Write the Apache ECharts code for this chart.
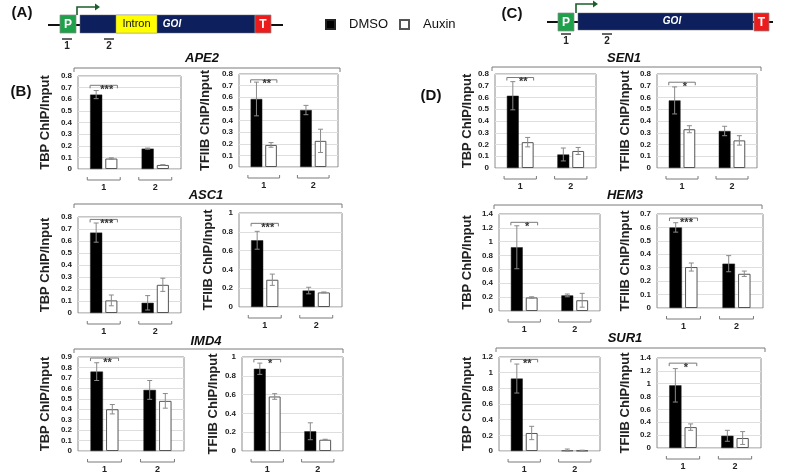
<!DOCTYPE html>
<html><head><meta charset="utf-8">
<script src="https://cdn.jsdelivr.net/npm/echarts@6/dist/echarts.min.js"></script>
<style>html,body{margin:0;padding:0;background:#fff}#c{width:785px;height:474px}</style>
</head><body><div id="c"></div>
<script>
// ---------- data ----------
const categories = ['1', '2'];
const seriesNames = ['DMSO', 'Auxin'];
const genes = ['APE2', 'ASC1', 'IMD4', 'SEN1', 'HEM3', 'SUR1'];
const factors = ['TBP', 'TFIIB'];

const ape2TbpDmso = [0.64, 0.175],   ape2TbpDmsoErr = [0.035, 0.005];
const ape2TbpAuxin = [0.09, 0.035],  ape2TbpAuxinErr = [0.006, 0.002];
const ape2TfiibDmso = [0.585, 0.49], ape2TfiibDmsoErr = [0.145, 0.04];
const ape2TfiibAuxin = [0.19, 0.225], ape2TfiibAuxinErr = [0.02, 0.1];

const asc1TbpDmso = [0.67, 0.085],   asc1TbpDmsoErr = [0.08, 0.06];
const asc1TbpAuxin = [0.105, 0.235], asc1TbpAuxinErr = [0.045, 0.055];
const asc1TfiibDmso = [0.71, 0.175], asc1TfiibDmsoErr = [0.095, 0.035];
const asc1TfiibAuxin = [0.29, 0.155], asc1TfiibAuxinErr = [0.06, 0.005];

const imd4TbpDmso = [0.76, 0.585],   imd4TbpDmsoErr = [0.085, 0.09];
const imd4TbpAuxin = [0.40, 0.48],   imd4TbpAuxinErr = [0.045, 0.07];
const imd4TfiibDmso = [0.875, 0.21], imd4TfiibDmsoErr = [0.06, 0.09];
const imd4TfiibAuxin = [0.58, 0.12], imd4TfiibAuxinErr = [0.03, 0.005];

const sen1TbpDmso = [0.615, 0.115],  sen1TbpDmsoErr = [0.12, 0.055];
const sen1TbpAuxin = [0.22, 0.145],  sen1TbpAuxinErr = [0.04, 0.03];
const sen1TfiibDmso = [0.575, 0.315], sen1TfiibDmsoErr = [0.115, 0.04];
const sen1TfiibAuxin = [0.33, 0.235], sen1TfiibAuxinErr = [0.03, 0.04];

const hem3TbpDmso = [0.92, 0.225],   hem3TbpDmsoErr = [0.31, 0.02];
const hem3TbpAuxin = [0.195, 0.155], hem3TbpAuxinErr = [0.01, 0.1];
const hem3TfiibDmso = [0.60, 0.33],  hem3TfiibDmsoErr = [0.035, 0.06];
const hem3TfiibAuxin = [0.305, 0.255], hem3TfiibAuxinErr = [0.03, 0.02];

const sur1TbpDmso = [0.925, 0.005],  sur1TbpDmsoErr = [0.185, 0.02];
const sur1TbpAuxin = [0.23, 0.005],  sur1TbpAuxinErr = [0.085, 0.005];
const sur1TfiibDmso = [0.975, 0.19], sur1TfiibDmsoErr = [0.26, 0.085];
const sur1TfiibAuxin = [0.325, 0.155], sur1TfiibAuxinErr = [0.05, 0.1];

// y-axis tick settings per panel (order: APE2 TBP, APE2 TFIIB, ASC1..., IMD4..., SEN1..., HEM3..., SUR1...)
const tickMax  = [0.8, 0.8, 0.8, 1, 0.9, 1, 0.8, 0.8, 1.4, 0.7, 1.2, 1.4];
const tickStep = [0.1, 0.1, 0.1, 0.2, 0.1, 0.2, 0.1, 0.1, 0.2, 0.1, 0.2, 0.2];
// significance bracket level (data units) and stars, for category 1
const sigLevel = [0.72, 0.75, 0.78, 0.89, 0.89, 0.975, 0.77, 0.73, 1.28, 0.67, 1.17, 1.32];
const sigStars = ['***', '**', '***', '***', '**', '*', '**', '*', '*', '***', '**', '*'];

const dmsoVals = [ape2TbpDmso, ape2TfiibDmso, asc1TbpDmso, asc1TfiibDmso, imd4TbpDmso, imd4TfiibDmso,
                  sen1TbpDmso, sen1TfiibDmso, hem3TbpDmso, hem3TfiibDmso, sur1TbpDmso, sur1TfiibDmso];
const dmsoErrs = [ape2TbpDmsoErr, ape2TfiibDmsoErr, asc1TbpDmsoErr, asc1TfiibDmsoErr, imd4TbpDmsoErr, imd4TfiibDmsoErr,
                  sen1TbpDmsoErr, sen1TfiibDmsoErr, hem3TbpDmsoErr, hem3TfiibDmsoErr, sur1TbpDmsoErr, sur1TfiibDmsoErr];
const auxinVals = [ape2TbpAuxin, ape2TfiibAuxin, asc1TbpAuxin, asc1TfiibAuxin, imd4TbpAuxin, imd4TfiibAuxin,
                   sen1TbpAuxin, sen1TfiibAuxin, hem3TbpAuxin, hem3TfiibAuxin, sur1TbpAuxin, sur1TfiibAuxin];
const auxinErrs = [ape2TbpAuxinErr, ape2TfiibAuxinErr, asc1TbpAuxinErr, asc1TfiibAuxinErr, imd4TbpAuxinErr, imd4TfiibAuxinErr,
                   sen1TbpAuxinErr, sen1TfiibAuxinErr, hem3TbpAuxinErr, hem3TfiibAuxinErr, sur1TbpAuxinErr, sur1TfiibAuxinErr];

// ---------- layout (pixels): left, top, width, height, nameGap ----------
const gridBoxes = [
  [78, 76, 103, 93, 26], [239, 74, 99, 93, 27],
  [78, 217, 103, 96, 26], [239, 213, 103, 94, 24],
  [78, 357, 106, 97, 26], [242, 357, 101, 95, 22],
  [495, 74, 101, 94, 21], [657, 74, 100, 94, 25],
  [499, 214, 101, 97, 25], [657, 214, 106, 94, 25],
  [499, 357, 101, 96, 25], [657, 358, 104, 90, 25]
];
const CAT_GAP = 0.47, BAR_GAP = 0.25;
const FONT = 'Liberation Sans, Arial, sans-serif';

function barOffset(band, which) {
  const w = band * (1 - CAT_GAP) / (2 + BAR_GAP);
  return { w: w, off: (which === 0 ? -1 : 1) * (w + w * BAR_GAP) / 2 };
}

function errRender(params, api) {
  const cat = api.value(0), val = api.value(1), err = api.value(2), which = api.value(3);
  const band = api.size([1, 0])[0];
  const o = barOffset(band, which);
  const x = api.coord([cat, val])[0] + o.off;
  const top = api.coord([cat, val + err])[1];
  const bot = api.coord([cat, Math.max(0, val - err)])[1];
  const st = { stroke: '#8a8a8a', lineWidth: 1 };
  return { type: 'group', children: [
    { type: 'line', shape: { x1: x, y1: top, x2: x, y2: bot }, style: st },
    { type: 'line', shape: { x1: x - 2.5, y1: top, x2: x + 2.5, y2: top }, style: st },
    { type: 'line', shape: { x1: x - 2.5, y1: bot, x2: x + 2.5, y2: bot }, style: st }
  ]};
}

function catBracketRender(params, api) {
  const cat = api.value(0);
  const band = api.size([1, 0])[0];
  const c = api.coord([cat, 0]);
  const hw = band * 0.32;
  const y = c[1] + 11;
  return { type: 'polyline', shape: { points: [[c[0] - hw, y - 3], [c[0] - hw, y], [c[0] + hw, y], [c[0] + hw, y - 3]] },
           style: { stroke: '#7a7a7a', lineWidth: 1, fill: null } };
}

function makeSigRender(stars) {
  return function (params, api) {
    const cat = api.value(0), lvl = api.value(1);
    const band = api.size([1, 0])[0];
    const o = barOffset(band, 0);
    const c = api.coord([cat, lvl]);
    const x1 = c[0] + o.off - o.w / 2, x2 = c[0] - o.off + o.w / 2;
    const y = c[1];
    return { type: 'group', children: [
      { type: 'polyline', shape: { points: [[x1, y + 3], [x1, y], [x2, y], [x2, y + 3]] },
        style: { stroke: '#7a7a7a', lineWidth: 1, fill: null } },
      { type: 'text', style: { text: stars, x: (x1 + x2) / 2 + 3, y: y - 1, align: 'center', verticalAlign: 'top',
        font: 'bold 11px ' + FONT, fill: '#333' } }
    ]};
  };
}

const grids = [], xAxes = [], yAxes = [], series = [];
for (let i = 0; i < 12; i++) {
  const b = gridBoxes[i];
  grids.push({ left: b[0], top: b[1], width: b[2], height: b[3], show: true, borderColor: '#8c8c8c', borderWidth: 1, backgroundColor: '#fff' });
  xAxes.push({ type: 'category', gridIndex: i, data: categories, axisLine: { show: false }, axisTick: { show: false },
    axisLabel: { margin: 14, fontSize: 9, fontWeight: 'bold', color: '#222', fontFamily: FONT } });
  yAxes.push({ type: 'value', gridIndex: i, min: 0, max: tickMax[i], interval: tickStep[i],
    name: factors[i % 2] + ' ChIP/Input', nameLocation: 'middle', nameGap: b[4],
    nameTextStyle: { fontSize: 13, fontWeight: 'bold', color: '#222', fontFamily: FONT },
    axisLine: { show: false }, axisTick: { show: false },
    axisLabel: { fontSize: 8, fontWeight: 'bold', color: '#222', margin: 6, fontFamily: FONT },
    splitLine: { lineStyle: { color: '#dedede', width: 1 } } });
  series.push({ type: 'bar', name: seriesNames[0], xAxisIndex: i, yAxisIndex: i, data: dmsoVals[i],
    barCategoryGap: (CAT_GAP * 100) + '%', barGap: (BAR_GAP * 100) + '%',
    itemStyle: { color: '#000', borderColor: '#222', borderWidth: 0.5 } });
  series.push({ type: 'bar', name: seriesNames[1], xAxisIndex: i, yAxisIndex: i, data: auxinVals[i],
    barCategoryGap: (CAT_GAP * 100) + '%', barGap: (BAR_GAP * 100) + '%',
    itemStyle: { color: '#fff', borderColor: '#555', borderWidth: 1 } });
  const errData = [];
  for (let k = 0; k < categories.length; k++) {
    errData.push([k, dmsoVals[i][k], dmsoErrs[i][k], 0]);
    errData.push([k, auxinVals[i][k], auxinErrs[i][k], 1]);
  }
  series.push({ type: 'custom', xAxisIndex: i, yAxisIndex: i, data: errData, renderItem: errRender, z: 5, silent: true });
  series.push({ type: 'custom', xAxisIndex: i, yAxisIndex: i, data: [[0, sigLevel[i]]], renderItem: makeSigRender(sigStars[i]), z: 5, silent: true, clip: false });
  series.push({ type: 'custom', xAxisIndex: i, yAxisIndex: i, data: [[0, 0], [1, 0]], renderItem: catBracketRender, z: 5, silent: true, clip: false });
}

// ---------- decorations ----------
const G = [];
function txt(t, x, y, size, opts) {
  G.push(Object.assign({ type: 'text', x: x, y: y, style: Object.assign({ text: t, align: 'center', verticalAlign: 'middle',
    font: 'bold ' + size + 'px ' + FONT, fill: '#111' }, opts || {}) }));
}
function bracket(x1, x2, y) {
  G.push({ type: 'polyline', shape: { points: [[x1, y + 4], [x1, y], [x2, y], [x2, y + 4]] }, style: { stroke: '#7a7a7a', lineWidth: 1, fill: null } });
}
// gene group brackets and titles
bracket(74, 340, 68);  txt(genes[0], 202, 58, 13, { font: 'italic bold 13px ' + FONT });
bracket(74, 342, 204); txt(genes[1], 206, 195, 13, { font: 'italic bold 13px ' + FONT });
bracket(74, 343, 349); txt(genes[2], 206, 341, 13, { font: 'italic bold 13px ' + FONT });
bracket(492, 761, 67); txt(genes[3], 624, 58, 13, { font: 'italic bold 13px ' + FONT });
bracket(494, 762, 205); txt(genes[4], 625, 195, 13, { font: 'italic bold 13px ' + FONT });
bracket(496, 765, 348); txt(genes[5], 625, 338, 13, { font: 'italic bold 13px ' + FONT });
// panel letters
txt('(A)', 22, 13, 15); txt('(B)', 21, 92, 15); txt('(C)', 512, 14, 15); txt('(D)', 431, 96, 15);

function geneDiagram(x0, x1, ly, p, body, intron, t, arrowX, arrowTop, arrowEnd, goiX, m1, m2, my) {
  G.push({ type: 'line', shape: { x1: x0, y1: ly, x2: x1, y2: ly }, style: { stroke: '#111', lineWidth: 2 } });
  G.push({ type: 'rect', shape: { x: body[0], y: body[1], width: body[2], height: body[3] }, style: { fill: '#0d1f5c', stroke: '#6d6d6d', lineWidth: 0.5 } });
  if (intron) {
    G.push({ type: 'rect', shape: { x: intron[0], y: intron[1], width: intron[2], height: intron[3] }, style: { fill: '#ffff00', stroke: '#999', lineWidth: 0.5 } });
    txt('Intron', intron[0] + intron[2] / 2, intron[1] + intron[3] / 2, 11, { font: '11px ' + FONT, fill: '#111' });
  }
  txt('GOI', goiX, body[1] + body[3] / 2, 10, { font: 'italic bold 10px ' + FONT, fill: '#fff' });
  G.push({ type: 'rect', shape: { x: p[0], y: p[1], width: p[2], height: p[3] }, style: { fill: '#1fa04b', stroke: '#8a8a8a', lineWidth: 0.7 } });
  txt('P', p[0] + p[2] / 2, p[1] + p[3] / 2 + 0.5, 12, { fill: '#fff' });
  G.push({ type: 'rect', shape: { x: t[0], y: t[1], width: t[2], height: t[3] }, style: { fill: '#ec1c1c', stroke: '#8a8a8a', lineWidth: 0.7 } });
  txt('T', t[0] + t[2] / 2, t[1] + t[3] / 2 + 0.5, 12, { fill: '#fff' });
  G.push({ type: 'polyline', shape: { points: [[arrowX, p[1]], [arrowX, arrowTop], [arrowEnd - 3, arrowTop]] }, style: { stroke: '#1b5e2b', lineWidth: 1.6, fill: null } });
  G.push({ type: 'polygon', shape: { points: [[arrowEnd - 5, arrowTop - 3.5], [arrowEnd, arrowTop], [arrowEnd - 5, arrowTop + 3.5]] }, style: { fill: '#1b5e2b' } });
  G.push({ type: 'line', shape: { x1: m1 - 5, y1: my, x2: m1 + 5, y2: my }, style: { stroke: '#333', lineWidth: 1.5 } });
  G.push({ type: 'line', shape: { x1: m2 - 5, y1: my, x2: m2 + 5, y2: my }, style: { stroke: '#333', lineWidth: 1.5 } });
  txt('1', m1, my + 7, 10, { fill: '#222' });
  txt('2', m2, my + 7, 10, { fill: '#222' });
}
geneDiagram(48, 283, 25, [60, 15, 16, 18], [80, 15, 175, 18], [116, 15, 41, 18], [255, 15, 16, 18], 77, 7, 100, 172, 67, 109, 39);
geneDiagram(547, 773, 22, [558, 13, 16, 18], [578, 13, 175, 17], null, [754, 13, 15, 18], 576, 4, 598, 672, 566, 607, 34);

const chart = echarts.init(document.getElementById('c'), null, { renderer: 'canvas' });
chart.setOption({
  animation: false,
  backgroundColor: '#fff',
  legend: { data: seriesNames, left: 325, top: 18, padding: 0, itemWidth: 9, itemHeight: 9, itemGap: 11, icon: 'rect', selectedMode: false,
    textStyle: { fontSize: 13, color: '#111', fontFamily: FONT, padding: [0, 0, 0, 9] } },
  grid: grids, xAxis: xAxes, yAxis: yAxes, series: series,
  graphic: G
});
</script>
</body></html>
